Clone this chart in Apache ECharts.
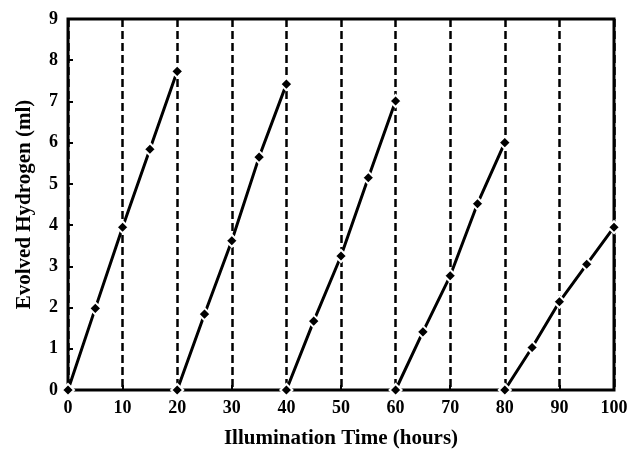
<!DOCTYPE html>
<html>
<head>
<meta charset="utf-8">
<script src="https://cdn.jsdelivr.net/npm/echarts@6/dist/echarts.min.js"></script>
<style>
  html, body { margin: 0; padding: 0; background: #fff; }
  #hydrogen-chart { width: 630px; height: 452px; }
</style>
</head>
<body>
<div id="hydrogen-chart"></div>
<script>
// illumination time (hours) for each of the five runs
var run1Time = [0, 5, 10, 15, 20];
var run2Time = [20, 25, 30, 35, 40];
var run3Time = [40, 45, 50, 55, 60];
var run4Time = [60, 65, 70, 75, 80];
var run5Time = [80, 85, 90, 95, 100];

// evolved hydrogen (ml)
var run1Hydrogen = [0, 1.98, 3.95, 5.84, 7.73];
var run2Hydrogen = [0, 1.84, 3.62, 5.65, 7.42];
var run3Hydrogen = [0, 1.67, 3.25, 5.15, 7.01];
var run4Hydrogen = [0, 1.41, 2.77, 4.52, 6.0];
var run5Hydrogen = [0, 1.03, 2.14, 3.05, 3.95];

var runs = [
  [run1Time, run1Hydrogen],
  [run2Time, run2Hydrogen],
  [run3Time, run3Hydrogen],
  [run4Time, run4Hydrogen],
  [run5Time, run5Hydrogen]
];

var chartDom = document.getElementById('hydrogen-chart');
var chart = echarts.init(chartDom);

var labelFont = {
  fontFamily: 'Liberation Serif',
  fontWeight: 'bold',
  fontSize: 18,
  color: '#000'
};

var nameFont = {
  fontFamily: 'Liberation Serif',
  fontWeight: 'bold',
  fontSize: 21,
  color: '#000'
};

var series = runs.map(function (run) {
  return {
    type: 'line',
    data: run[0].map(function (t, i) { return [t, run[1][i]]; }),
    symbol: 'diamond',
    symbolSize: 12,
    showAllSymbol: true,
    lineStyle: { color: '#000', width: 3 },
    itemStyle: { color: '#000', borderColor: '#fff', borderWidth: 2 },
    emphasis: { disabled: true },
    animation: false
  };
});

var options = {
  animation: false,
  tooltip: { show: false },
  legend: null,
  grid: {
    left: 68,
    right: 16,
    top: 19,
    bottom: 62,
    outerBoundsMode: 'none',
    containLabel: false,
    show: true,
    borderColor: '#000',
    borderWidth: 3,
    backgroundColor: 'transparent'
  },
  xAxis: {
    type: 'value',
    min: 0,
    max: 100,
    interval: 10,
    name: 'Illumination Time (hours)',
    nameLocation: 'middle',
    nameGap: 38,
    nameTextStyle: nameFont,
    axisLine: { show: false },
    axisTick: { show: true, inside: true, length: 5, lineStyle: { color: '#000', width: 2 } },
    axisLabel: Object.assign({ margin: 9 }, labelFont),
    splitLine: {
      show: true,
      lineStyle: { color: '#000', width: 2.5, type: [8, 4] }
    }
  },
  yAxis: {
    type: 'value',
    min: 0,
    max: 9,
    interval: 1,
    name: 'Evolved Hydrogen (ml)',
    nameLocation: 'middle',
    nameGap: 33,
    nameTextStyle: nameFont,
    axisLine: { show: false },
    axisTick: { show: true, inside: true, length: 5, lineStyle: { color: '#000', width: 2 } },
    axisLabel: Object.assign({ margin: 10 }, labelFont),
    splitLine: { show: false }
  },
  series: series
};

chart.setOption(options, true);
</script>
</body>
</html>
